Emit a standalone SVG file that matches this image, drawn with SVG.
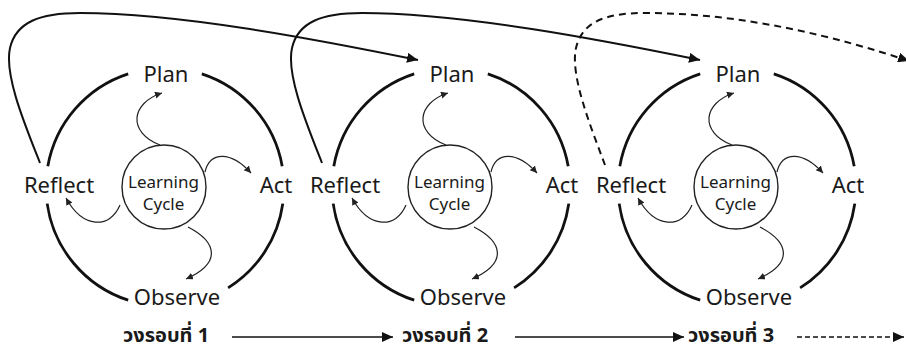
<svg xmlns="http://www.w3.org/2000/svg" width="906" height="349" viewBox="0 0 906 349">
<style>
.bg{fill:#fff}
.lbl{font-family:"Noto Sans","Open Sans","DejaVu Sans",sans-serif;font-size:22px;fill:#1a1a1a;text-anchor:middle}
.lc{font-family:"Noto Sans","Open Sans","DejaVu Sans",sans-serif;font-size:17px;fill:#1a1a1a;text-anchor:middle}
.th{font-family:"Noto Sans","Noto Sans Thai","DejaVu Sans",sans-serif;font-size:20px;font-weight:bold;fill:#1a1a1a}
.arc{fill:none;stroke:#111;stroke-width:2.8}
.inner{fill:#fff;stroke:#222;stroke-width:1.4}
.wav{fill:none;stroke:#222;stroke-width:1.2;marker-end:url(#sa)}
.big{fill:none;stroke:#111;stroke-width:2;marker-end:url(#ba)}
.dash{stroke-dasharray:7 5}
.axis{fill:none;stroke:#111;stroke-width:1.5;marker-end:url(#xa)}
</style>
<defs>
<marker id="ba" markerUnits="userSpaceOnUse" markerWidth="12" markerHeight="10" refX="11" refY="5" orient="auto"><path d="M0,0 L11,5 L0,10 z" fill="#111"/></marker>
<marker id="sa" markerUnits="userSpaceOnUse" markerWidth="8" markerHeight="8" refX="7" refY="3.5" orient="auto"><path d="M0,0 L7,3.5 L0,7 z" fill="#222"/></marker>
<marker id="xa" markerUnits="userSpaceOnUse" markerWidth="12" markerHeight="10" refX="11" refY="5" orient="auto"><path d="M0,0 L11,5 L0,10 z" fill="#111"/></marker>
</defs>
<rect class="bg" x="0" y="0" width="906" height="349"/>

<g id="cycle1" transform="translate(165,187)">
  <g id="c1-ring">
    <path class="arc" d="M -117.2,-20.7 A 119 119 0 0 1 -36.8,-113.2"/>
    <path class="arc" d="M 36.8,-113.2 A 119 119 0 0 1 117.2,-20.7"/>
    <path class="arc" d="M 117.8,16.6 A 119 119 0 0 1 63.1,100.9"/>
    <path class="arc" d="M -36.8,113.2 A 119 119 0 0 1 -117.8,16.6"/>
  </g>
  <g id="c1-waves">
    <path class="wav" d="M -5,-42 C -38,-55 -34,-84 -3,-94"/>
    <path class="wav" d="M 40,-15 C 45,-36 66,-36 86,-14"/>
    <path class="wav" d="M 23,40 C 52,55 57,76 21,92"/>
    <path class="wav" d="M -45,18 C -55,42 -82,42 -99,11"/>
  </g>
  <g id="c1-center"><circle class="inner" cx="-1" cy="0" r="42"/><text class="lc" x="-1.5" y="1">Learning</text><text class="lc" x="-1.5" y="23">Cycle</text></g>
  <g id="c1-plan"><text class="lbl" x="1" y="-105">Plan</text></g>
  <g id="c1-act"><text class="lbl" x="111" y="6">Act</text></g>
  <g id="c1-observe"><text class="lbl" x="12" y="118">Observe</text></g>
  <g id="c1-reflect"><text class="lbl" x="-106" y="6">Reflect</text></g>
</g>

<g id="cycle2" transform="translate(451,187)">
  <g id="c2-ring">
    <path class="arc" d="M -117.2,-20.7 A 119 119 0 0 1 -36.8,-113.2"/>
    <path class="arc" d="M 36.8,-113.2 A 119 119 0 0 1 117.2,-20.7"/>
    <path class="arc" d="M 117.8,16.6 A 119 119 0 0 1 63.1,100.9"/>
    <path class="arc" d="M -36.8,113.2 A 119 119 0 0 1 -117.8,16.6"/>
  </g>
  <g id="c2-waves">
    <path class="wav" d="M -5,-42 C -38,-55 -34,-84 -3,-94"/>
    <path class="wav" d="M 40,-15 C 45,-36 66,-36 86,-14"/>
    <path class="wav" d="M 23,40 C 52,55 57,76 21,92"/>
    <path class="wav" d="M -45,18 C -55,42 -82,42 -99,11"/>
  </g>
  <g id="c2-center"><circle class="inner" cx="-1" cy="0" r="42"/><text class="lc" x="-1.5" y="1">Learning</text><text class="lc" x="-1.5" y="23">Cycle</text></g>
  <g id="c2-plan"><text class="lbl" x="1" y="-105">Plan</text></g>
  <g id="c2-act"><text class="lbl" x="111" y="6">Act</text></g>
  <g id="c2-observe"><text class="lbl" x="12" y="118">Observe</text></g>
  <g id="c2-reflect"><text class="lbl" x="-106" y="6">Reflect</text></g>
</g>

<g id="cycle3" transform="translate(737,187)">
  <g id="c3-ring">
    <path class="arc" d="M -117.2,-20.7 A 119 119 0 0 1 -36.8,-113.2"/>
    <path class="arc" d="M 36.8,-113.2 A 119 119 0 0 1 117.2,-20.7"/>
    <path class="arc" d="M 117.8,16.6 A 119 119 0 0 1 63.1,100.9"/>
    <path class="arc" d="M -36.8,113.2 A 119 119 0 0 1 -117.8,16.6"/>
  </g>
  <g id="c3-waves">
    <path class="wav" d="M -5,-42 C -38,-55 -34,-84 -3,-94"/>
    <path class="wav" d="M 40,-15 C 45,-36 66,-36 86,-14"/>
    <path class="wav" d="M 23,40 C 52,55 57,76 21,92"/>
    <path class="wav" d="M -45,18 C -55,42 -82,42 -99,11"/>
  </g>
  <g id="c3-center"><circle class="inner" cx="-1" cy="0" r="42"/><text class="lc" x="-1.5" y="1">Learning</text><text class="lc" x="-1.5" y="23">Cycle</text></g>
  <g id="c3-plan"><text class="lbl" x="1" y="-105">Plan</text></g>
  <g id="c3-act"><text class="lbl" x="111" y="6">Act</text></g>
  <g id="c3-observe"><text class="lbl" x="12" y="118">Observe</text></g>
  <g id="c3-reflect"><text class="lbl" x="-106" y="6">Reflect</text></g>
</g>

<g id="round1"><text class="th" x="123" y="342">วงรอบที่ 1</text></g>
<g id="round2"><text class="th" x="402" y="342">วงรอบที่ 2</text></g>
<g id="round3"><text class="th" x="688" y="342">วงรอบที่ 3</text></g>

<g id="connectors">
  <path class="big" d="M 40,163 C 25,125 4,75 10,48 C 16,22 40,13 80,13 C 180,13 320,40 418,60"/>
  <path class="big" d="M 322,163 C 307,125 286,75 292,48 C 298,22 322,13 362,13 C 462,13 602,40 700,60"/>
  <path class="big dash" d="M 605,165 C 590,125 570,75 576,48 C 582,22 605,13 645,13 C 745,13 840,38 909,61"/>
  <path class="axis" d="M 232,337 L 393,337"/>
  <path class="axis" d="M 515,337 L 684,337"/>
  <path class="axis" d="M 797,337 L 904,337" stroke-dasharray="5 3"/>
</g>
</svg>
